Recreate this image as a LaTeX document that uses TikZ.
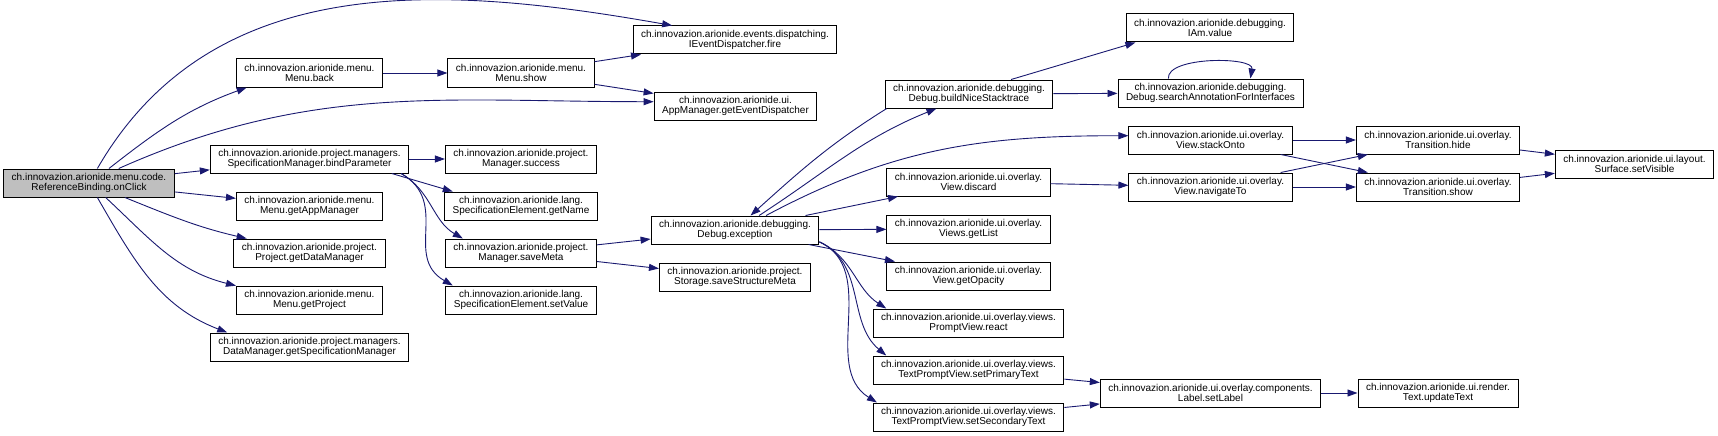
\documentclass[tikz,border=0pt]{standalone}
\usepackage{fontspec}
\setmainfont{Liberation Sans}
\usetikzlibrary{arrows.meta}

\definecolor{callblue}{RGB}{25,25,112}
\tikzset{
  fn/.style={draw=black, line width=1pt, fill=white, align=center,
    inner xsep=8pt, inner ysep=0pt, minimum height=28pt,
    font=\fontsize{10}{10}\selectfont},
  root/.style={fn, fill=black!25},
  call/.style={color=callblue, line width=0.9pt, -{Triangle[length=10pt,width=7pt]}},
}

\begin{document}
\begin{tikzpicture}[x=1pt, y=-1pt, node distance=47pt]
	\useasboundingbox (0,0) rectangle (1718,436);

	\node[root] (onClick) at (89,183) {ch.innovazion.arionide.menu.code.\\ReferenceBinding.onClick};
	\node[fn] (back) at (309.5,73) {ch.innovazion.arionide.menu.\\Menu.back};
	\node[fn] (bind) at (309.5,159) {ch.innovazion.arionide.project.managers.\\SpecificationManager.bindParameter};
	\node[fn] (getApp) [below of=bind] {ch.innovazion.arionide.menu.\\Menu.getAppManager};
	\node[fn] (getData) [below of=getApp] {ch.innovazion.arionide.project.\\Project.getDataManager};
	\node[fn] (getProject) [below of=getData] {ch.innovazion.arionide.menu.\\Menu.getProject};
	\node[fn] (getSpec) [below of=getProject] {ch.innovazion.arionide.project.managers.\\DataManager.getSpecificationManager};
	\node[fn] (show) at (521,73) {ch.innovazion.arionide.menu.\\Menu.show};
	\node[fn] (success) at (521,159) {ch.innovazion.arionide.project.\\Manager.success};
	\node[fn] (getName) [below of=success] {ch.innovazion.arionide.lang.\\SpecificationElement.getName};
	\node[fn] (saveMeta) [below of=getName] {ch.innovazion.arionide.project.\\Manager.saveMeta};
	\node[fn] (setValue) [below of=saveMeta] {ch.innovazion.arionide.lang.\\SpecificationElement.setValue};
	\node[fn] (fire) at (735,40) {ch.innovazion.arionide.events.dispatching.\\IEventDispatcher.fire};
	\node[fn] (getED) at (735.5,106) {ch.innovazion.arionide.ui.\\AppManager.getEventDispatcher};
	\node[fn] (exception) at (735,230) {ch.innovazion.arionide.debugging.\\Debug.exception};
	\node[fn] (saveStruct) [below of=exception] {ch.innovazion.arionide.project.\\Storage.saveStructureMeta};
	\node[fn] (buildNice) at (969,94) {ch.innovazion.arionide.debugging.\\Debug.buildNiceStacktrace};
	\node[fn] (discard) at (968.5,182) {ch.innovazion.arionide.ui.overlay.\\View.discard};
	\node[fn] (getList) [below of=discard] {ch.innovazion.arionide.ui.overlay.\\Views.getList};
	\node[fn] (getOpacity) [below of=getList] {ch.innovazion.arionide.ui.overlay.\\View.getOpacity};
	\node[fn] (react) [below of=getOpacity] {ch.innovazion.arionide.ui.overlay.views.\\PromptView.react};
	\node[fn] (setPrimary) [below of=react] {ch.innovazion.arionide.ui.overlay.views.\\TextPromptView.setPrimaryText};
	\node[fn] (setSecondary) [below of=setPrimary] {ch.innovazion.arionide.ui.overlay.views.\\TextPromptView.setSecondaryText};
	\node[fn] (iamValue) at (1210,28) {ch.innovazion.arionide.debugging.\\IAm.value};
	\node[fn] (search) at (1210.5,93) {ch.innovazion.arionide.debugging.\\Debug.searchAnnotationForInterfaces};
	\node[fn] (stackOnto) [below of=search] {ch.innovazion.arionide.ui.overlay.\\View.stackOnto};
	\node[fn] (navigateTo) [below of=stackOnto] {ch.innovazion.arionide.ui.overlay.\\View.navigateTo};
	\node[fn] (setLabel) at (1210.5,393) {ch.innovazion.arionide.ui.overlay.components.\\Label.setLabel};
	\node[fn] (hide) at (1438,140) {ch.innovazion.arionide.ui.overlay.\\Transition.hide};
	\node[fn] (trShow) [below of=hide] {ch.innovazion.arionide.ui.overlay.\\Transition.show};
	\node[fn] (updateText) at (1438,393) {ch.innovazion.arionide.ui.render.\\Text.updateText};
	\node[fn] (setVisible) at (1634.5,164) {ch.innovazion.arionide.ui.layout.\\Surface.setVisible};

	% calls of onClick
	\path[call] (onClick.60) edge[out=60, in=170] (fire.167);
	\path[call] (onClick.36) edge[out=38, in=200] (back.193);
	\path[call] (onClick.26) edge[out=24, in=180] (getED.177);
	\path[call] (onClick) edge (bind);
	\path[call] (onClick) edge (getApp);
	\path[call] (onClick.-22) edge[out=-22, in=167] (getData.167);
	\path[call] (onClick.-41) edge[out=-43, in=166] (getProject.169);
	\path[call] (onClick.-60) edge[out=-60, in=159] (getSpec.170);

	\path[call] (back) edge (show);
	\path[call] (show) edge (fire);
	\path[call] (show) edge (getED);
	\path[call] (bind) edge (success);
	\path[call] (bind.-10) edge (getName.168);
	\path[call] (bind.-9.5) edge[out=-30, in=150] (saveMeta.166);
	\path[call] (bind.-9) edge[out=-30, in=150, looseness=1.2] (setValue.168);
	\path[call] (saveMeta) edge (exception);
	\path[call] (saveMeta) edge (saveStruct);

	% calls of Debug.exception
	\path[call] (buildNice.190) edge[out=212, in=42] (exception.43);
	\path[call] (exception.31) edge[out=33, in=202] (buildNice.204);
	\path[call] (exception.25) edge[out=28, in=180] (stackOnto.177);
	\path[call] (exception) edge (discard);
	\path[call] (exception) edge (getList);
	\path[call] (exception) edge (getOpacity);
	\path[call] (exception.-8) edge[out=-25, in=147] (react.170);
	\path[call] (exception.-8) edge[out=-25, in=140] (setPrimary.170);
	\path[call] (exception.-8) edge[out=-25, in=148] (setSecondary.171);

	\path[call] (buildNice.19) edge (iamValue.191);
	\path[call] (buildNice) edge (search);
	\path[call] (search.161) edge[out=95, in=80, looseness=0.7] (search.20);
	\path[call] (discard) edge (navigateTo);
	\path[call] (stackOnto) edge (hide);
	\path[call] (stackOnto) edge (trShow);
	\path[call] (navigateTo) edge (hide);
	\path[call] (navigateTo) edge (trShow);
	\path[call] (hide) edge (setVisible);
	\path[call] (trShow) edge (setVisible);
	\path[call] (setPrimary) edge (setLabel);
	\path[call] (setSecondary) edge (setLabel);
	\path[call] (setLabel) edge (updateText);
\end{tikzpicture}
\end{document}
